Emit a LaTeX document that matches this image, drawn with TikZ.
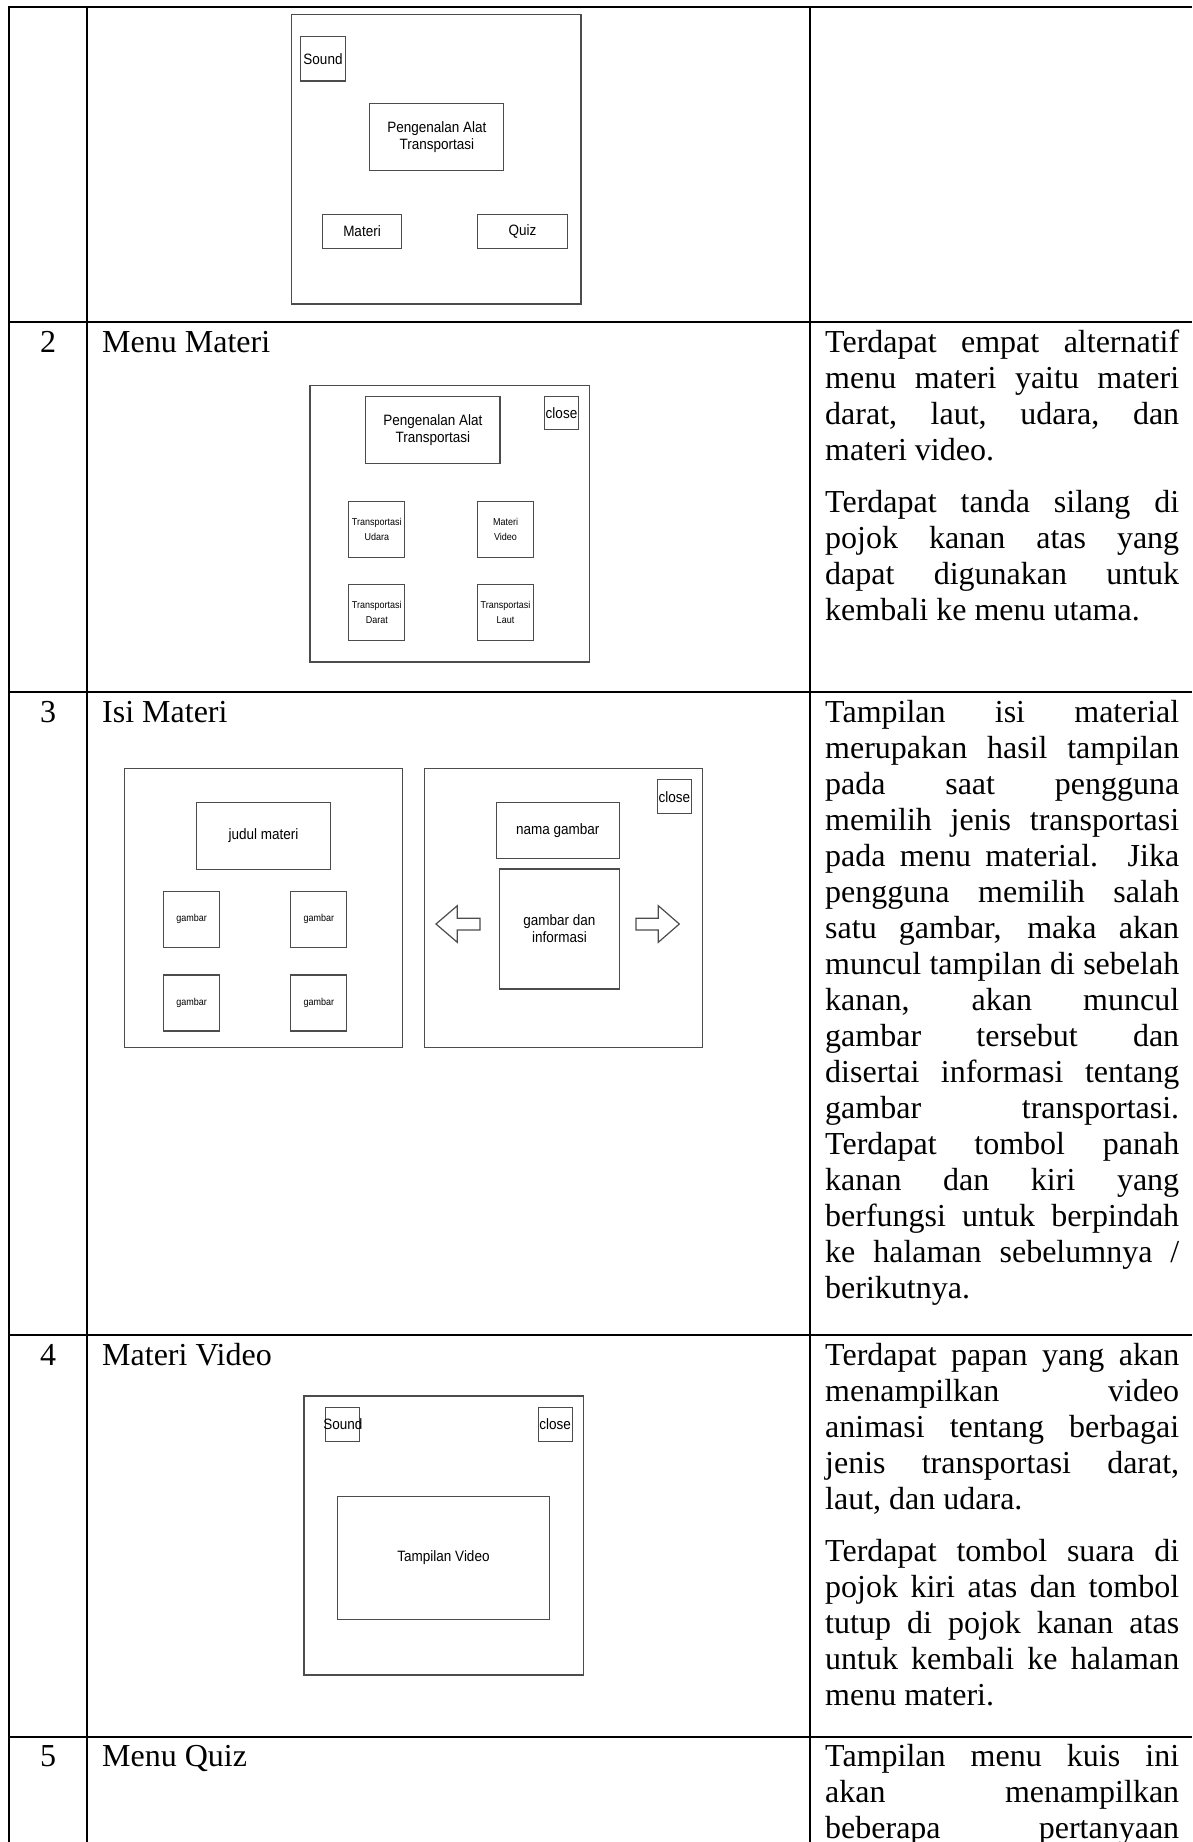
\documentclass[tikz,border=0pt]{standalone}
\usepackage{fontspec}
\setmainfont{Liberation Serif}
\newfontfamily\uifont[FakeStretch=0.9]{Liberation Sans}
\setlength{\parindent}{0pt}
\hyphenpenalty=10000
\tolerance=10000

\begin{document}
\begin{tikzpicture}[x=1pt, y=-1pt,
		tblline/.style={line width=2pt},
		uiline/.style={draw=black!70, line width=1.2pt},
		uiframe/.style={uiline, inner sep=0pt},
		uitext/.style={font=\uifont\fontsize{15}{17}\selectfont},
		uibox/.style={uiframe, uitext, align=center},
		uismall/.style={uiframe, font=\uifont\fontsize{10}{15.7}\selectfont, align=center},
		rownum/.style={anchor=base, inner sep=0pt, font=\fontsize{32}{36}\selectfont},
		rowtitle/.style={rownum, anchor=base west},
		desc/.style={anchor=north west, inner sep=0pt, text width=354pt, align=justify, font=\fontsize{32}{36}\selectfont}]
	\useasboundingbox (0,0) rectangle (1192,1842);
	\draw[tblline] (1192,7.3) -- (9.4,7.3) -- (9.4,1842);
	\draw[tblline] (86.8,7.3) -- (86.8,1842);
	\draw[tblline] (809.6,7.3) -- (809.6,1842);
	\foreach \y in {322,692,1335,1736.7}
		\draw[tblline] (9.4,\y) -- (1192,\y);

	\foreach \n/\t/\y in {2/Menu Materi/352,3/Isi Materi/722,4/Materi Video/1365,5/Menu Quiz/1766.7}{
		\node[rownum] (num\n) at (48.1,\y) {\n};
		\node[rowtitle] (title\n) at (102,\y) {\t};
	}

	\node[uiframe, minimum width=289.2, minimum height=289.7] (home) at (436.4,159.2) {};
	\node[uibox, minimum width=45.5, minimum height=44.7] (homesound) at (323,58.7) {Sound};
	\node[uibox, minimum width=134, minimum height=67.4] (hometitle) at (436.8,137) {Pengenalan Alat\\Transportasi};
	\node[uibox, minimum width=78.5, minimum height=33.6] (homemateri) at (362,231.5) {Materi};
	\node[uibox, minimum width=90, minimum height=33.6] (homequiz) at (522.5,231.5) {Quiz};

	\node[uiframe, minimum width=279.4, minimum height=276.7] (menu) at (449.7,523.7) {};
	\node[uibox, minimum width=134.4, minimum height=66.6] (menutitle) at (432.8,430) {Pengenalan Alat\\Transportasi};
	\node[uibox, minimum width=34, minimum height=33] (menuclose) at (561.5,413.2) {close};
	\node[uismall, minimum size=56] (udara) at (376.8,529.3) {Transportasi\\Udara};
	\node[uismall, minimum size=56] (video) at (505.5,529.3) {Materi\\Video};
	\node[uismall, minimum size=56] (darat) at (376.8,612.3) {Transportasi\\Darat};
	\node[uismall, minimum size=56] (laut) at (505.5,612.3) {Transportasi\\Laut};

	\node[uiframe, minimum width=278.2, minimum height=279] (isi) at (263.6,907.8) {};
	\node[uibox, minimum width=133.8, minimum height=67] (judul) at (263.6,835.8) {judul materi};
	\foreach \x/\y [count=\i] in {191.7/919.3,318.8/919.3,191.7/1002.9,318.8/1002.9}
		\node[uismall, minimum size=56] (gambar\i) at (\x,\y) {gambar};
	\node[uiframe, minimum width=277.7, minimum height=279] (detail) at (563.6,907.8) {};
	\node[uibox, minimum size=34] (detailclose) at (674.4,796.7) {close};
	\node[uibox, minimum width=122.9, minimum height=56] (nama) at (557.8,830.3) {nama gambar};
	\node[uibox, minimum width=119.7, minimum height=120] (info) at (559.4,929) {gambar dan\\informasi};
	\draw[uiline] (436,924) -- (457.3,905.7) -- (457.3,918.3) -- (480,918.3) -- (480,930) -- (457.3,930) -- (457.3,942.3) -- cycle;
	\draw[uiline] (679.3,924) -- (658.3,905.7) -- (658.3,918.3) -- (636,918.3) -- (636,930) -- (658.3,930) -- (658.3,942.3) -- cycle;

	\node[uiframe, minimum width=279.3, minimum height=279] (vid) at (443.6,1535.5) {};
	\node[uiframe, minimum size=34, label={[uitext]center:Sound}] (vidsound) at (342.8,1424.3) {};
	\node[uibox, minimum size=34] (vidclose) at (555.2,1424.3) {close};
	\node[uibox, minimum width=212.4, minimum height=122.6] (vidscreen) at (443.5,1558) {Tampilan Video};

	\node[desc] (desc2) at (825,326.8) {\strut Terdapat empat alternatif\linebreak menu materi yaitu materi\linebreak darat, laut, udara, dan\linebreak materi video.\par\vspace{16pt}Terdapat tanda silang di\linebreak pojok kanan atas yang\linebreak dapat digunakan untuk\linebreak kembali ke menu utama.};
	\node[desc] (desc3) at (825,696.8) {\strut Tampilan isi material\linebreak merupakan hasil tampilan\linebreak pada saat pengguna\linebreak memilih jenis transportasi\linebreak pada menu material. Jika\linebreak pengguna memilih salah\linebreak satu gambar, maka akan\linebreak muncul tampilan di sebelah\linebreak kanan, akan muncul\linebreak gambar tersebut dan\linebreak disertai informasi tentang\linebreak gambar transportasi.\linebreak Terdapat tombol panah\linebreak kanan dan kiri yang\linebreak berfungsi untuk berpindah\linebreak ke halaman sebelumnya /\linebreak berikutnya.};
	\node[desc] (desc4) at (825,1340.1) {\strut Terdapat papan yang akan\linebreak menampilkan video\linebreak animasi tentang berbagai\linebreak jenis transportasi darat,\linebreak laut, dan udara.\par\vspace{16pt}Terdapat tombol suara di\linebreak pojok kiri atas dan tombol\linebreak tutup di pojok kanan atas\linebreak untuk kembali ke halaman\linebreak menu materi.};
	\node[desc] (desc5) at (825,1741.5) {\strut Tampilan menu kuis ini\linebreak akan menampilkan\linebreak beberapa pertanyaan\linebreak};
\end{tikzpicture}
\end{document}
